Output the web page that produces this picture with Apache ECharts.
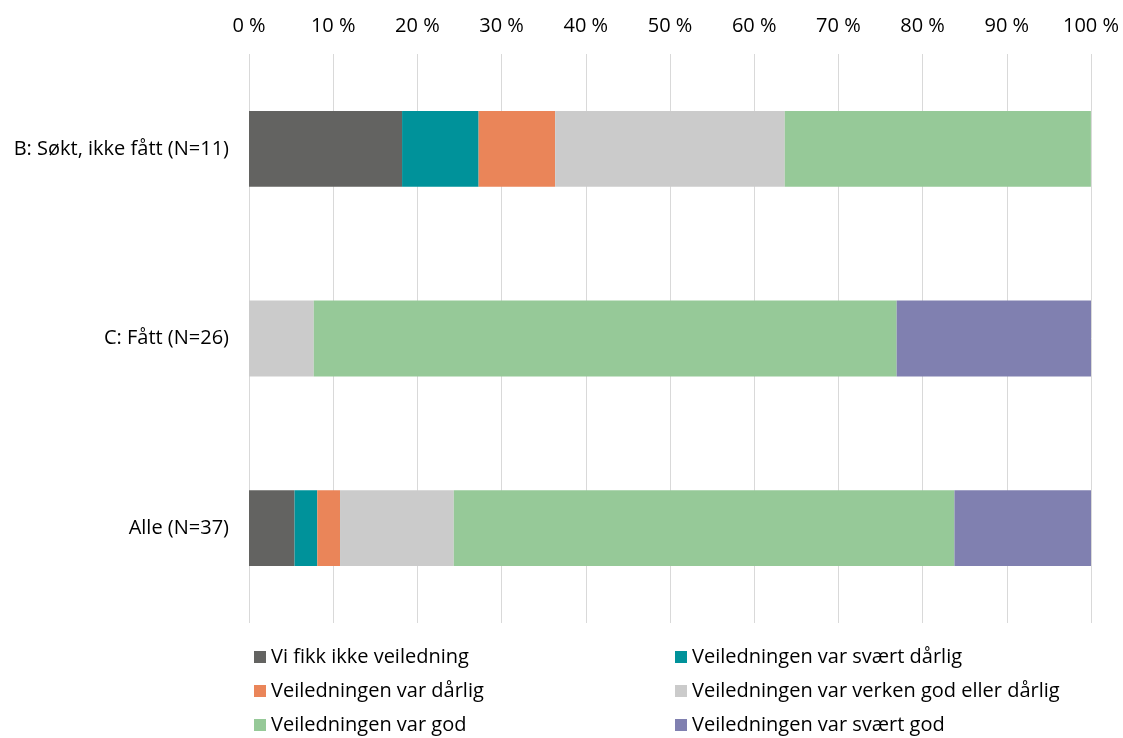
<!DOCTYPE html>
<html>
<head>
<meta charset="utf-8">
<script src="https://cdn.jsdelivr.net/npm/echarts@6/dist/echarts.min.js"></script>
<style>
  html, body { margin: 0; padding: 0; background: #fff; }
  #chart { width: 1123px; height: 738px; }
</style>
</head>
<body>
<div id="chart"></div>
<script>
// Groups, top to bottom
const categories = ['B: Søkt, ikke fått (N=11)', 'C: Fått (N=26)', 'Alle (N=37)'];

// Answer shares in percent, one array per answer option (same order as categories)
const ikkeVeiledning   = [18.18, 0, 5.41];
const svaertDarlig     = [9.09, 0, 2.70];
const darlig           = [9.09, 0, 2.70];
const verkenEller      = [27.27, 7.69, 13.51];
const god              = [36.36, 69.23, 59.46];
const svaertGod        = [0, 23.08, 16.22];

const seriesNames = [
  'Vi fikk ikke veiledning',
  'Veiledningen var svært dårlig',
  'Veiledningen var dårlig',
  'Veiledningen var verken god eller dårlig',
  'Veiledningen var god',
  'Veiledningen var svært god'
];
const seriesData = [ikkeVeiledning, svaertDarlig, darlig, verkenEller, god, svaertGod];
const colors = ['#636361', '#00929A', '#EA8559', '#CBCBCB', '#96C998', '#8080B0'];

const FONT = '"Open Sans", Lato, sans-serif';
const FS = 20;

const chart = echarts.init(document.getElementById('chart'), null, { renderer: 'canvas' });

const legendText = { fontFamily: FONT, fontSize: FS, color: '#000', lineHeight: 22 };

function legendColumn(left, names) {
  return {
    orient: 'vertical', left, top: 646, height: 120,
    itemWidth: 12, itemHeight: 12, itemGap: 12,
    icon: 'rect', padding: 0,
    data: names,
    textStyle: legendText, selectedMode: false
  };
}

chart.setOption({
  animation: false,
  backgroundColor: '#fff',
  color: colors,
  grid: { left: 249, right: 32, top: 54, bottom: 115, containLabel: false },
  xAxis: {
    type: 'value',
    position: 'top',
    min: 0,
    max: 100,
    interval: 10,
    axisLine: { show: false },
    axisTick: { show: false },
    axisLabel: {
      margin: 18,
      formatter: v => v + ' %',
      fontFamily: FONT, fontSize: FS, color: '#000'
    },
    splitLine: { show: true, lineStyle: { color: '#D9D9D9', width: 1 } }
  },
  yAxis: {
    type: 'category',
    inverse: true,
    data: categories,
    axisLine: { show: false },
    axisTick: { show: false },
    axisLabel: { margin: 20, fontFamily: FONT, fontSize: FS, color: '#000' }
  },
  legend: [
    legendColumn(254, [seriesNames[0], seriesNames[2], seriesNames[4]]),
    legendColumn(254 + 421, [seriesNames[1], seriesNames[3], seriesNames[5]])
  ],
  series: seriesNames.map((name, i) => ({
    name,
    type: 'bar',
    stack: 'total',
    barWidth: '40%',
    data: seriesData[i],
    itemStyle: { color: colors[i] }
  }))
});
</script>
</body>
</html>
